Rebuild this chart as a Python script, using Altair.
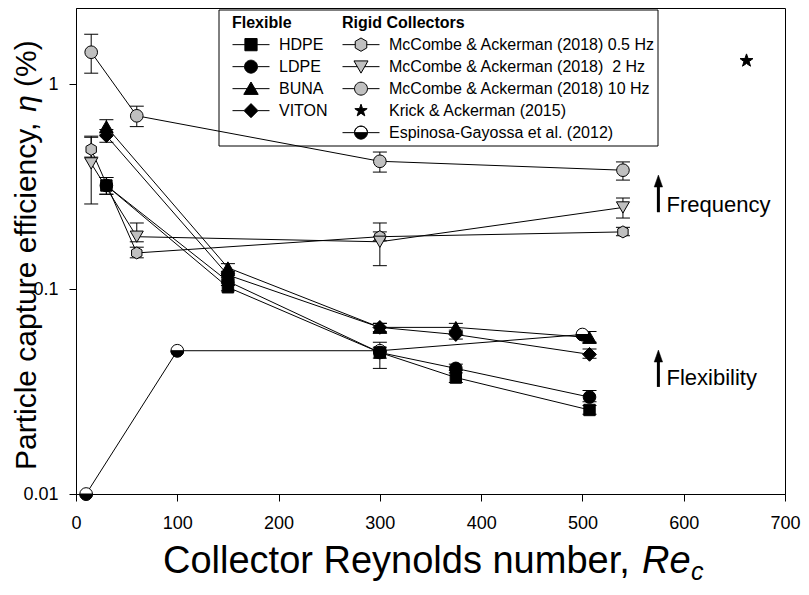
import altair as alt
import pandas as pd

FONT = "Liberation Sans"
GRAY = "#c0c0c0"

# ---------------- data ----------------
flex_names = ["HDPE", "LDPE", "BUNA", "VITON"]
flex_x = [30, 150, 300, 375, 507]
hdpe_y = [0.32, 0.102, 0.049, 0.037, 0.0257]
hdpe_lo = [0.29, 0.098, 0.046, 0.035, 0.0245]
hdpe_hi = [0.35, 0.107, 0.052, 0.040, 0.0270]
ldpe_y = [0.32, 0.109, 0.049, 0.041, 0.0297]
ldpe_lo = [0.29, 0.104, 0.041, 0.039, 0.0282]
ldpe_hi = [0.35, 0.114, 0.055, 0.043, 0.0320]
buna_y = [0.62, 0.127, 0.065, 0.065, 0.058]
buna_lo = [0.57, 0.121, 0.061, 0.062, 0.055]
buna_hi = [0.67, 0.133, 0.068, 0.068, 0.062]
viton_y = [0.56, 0.117, 0.065, 0.060, 0.048]
viton_lo = [0.52, 0.112, 0.062, 0.057, 0.046]
viton_hi = [0.60, 0.122, 0.068, 0.063, 0.051]

rigid_names = [
    "McCombe & Ackerman (2018) 0.5 Hz",
    "McCombe & Ackerman (2018)\u00a0 2 Hz",
    "McCombe & Ackerman (2018) 10 Hz",
    "Krick & Ackerman (2015)",
    "Espinosa-Gayossa et al. (2012)",
]
rigid_x = [15, 60, 300, 540]
hz05_y = [0.48, 0.15, 0.18, 0.19]
hz05_lo = [0.44, 0.142, 0.172, 0.182]
hz05_hi = [0.557, 0.16, 0.19, 0.20]
hz2_y = [0.41, 0.18, 0.17, 0.25]
hz2_lo = [0.26, 0.17, 0.13, 0.222]
hz2_hi = [0.55, 0.21, 0.21, 0.278]
hz10_y = [1.43, 0.70, 0.42, 0.38]
hz10_lo = [1.13, 0.62, 0.372, 0.34]
hz10_hi = [1.75, 0.78, 0.466, 0.417]
krick_x = [662]
krick_y = [1.3]
esp_x = [10, 100, 300, 500]
esp_y = [0.01, 0.05, 0.05, 0.06]

# annotation arrows (data coordinates)
ann_labels = ["Frequency", "Flexibility"]
ann_x = [575, 575]
ann_text_x = [583, 583]
ann_text_y = [0.237, 0.034]
ann_tip = [0.36, 0.0504]
ann_shaft_top = [0.325, 0.046]
ann_base = [0.237, 0.0333]

# ---------------- tables ----------------
def table(name, xs, ys, lo=None, hi=None):
    d = pd.DataFrame({"series": name, "x": xs, "y": ys})
    if lo is not None:
        d["lo"] = lo
        d["hi"] = hi
    return d

d_hdpe = table("HDPE", flex_x, hdpe_y, hdpe_lo, hdpe_hi)
d_ldpe = table("LDPE", flex_x, ldpe_y, ldpe_lo, ldpe_hi)
d_buna = table("BUNA", flex_x, buna_y, buna_lo, buna_hi)
d_viton = table("VITON", flex_x, viton_y, viton_lo, viton_hi)
d_05 = table(rigid_names[0], rigid_x, hz05_y, hz05_lo, hz05_hi)
d_2 = table(rigid_names[1], rigid_x, hz2_y, hz2_lo, hz2_hi)
d_10 = table(rigid_names[2], rigid_x, hz10_y, hz10_lo, hz10_hi)
d_krick = table(rigid_names[3], krick_x, krick_y)
d_esp = table(rigid_names[4], esp_x, esp_y)

d_all = pd.concat([d_hdpe, d_ldpe, d_buna, d_viton, d_05, d_2, d_10, d_krick, d_esp],
                  ignore_index=True)
d_err = pd.concat([d_hdpe, d_ldpe, d_buna, d_viton, d_05, d_2, d_10], ignore_index=True)
d_ann = pd.DataFrame({"label": ann_labels, "x": ann_x, "tx": ann_text_x, "ty": ann_text_y,
                      "tip": ann_tip, "top": ann_shaft_top, "base": ann_base})

# ---------------- scales / axes ----------------
xs = alt.Scale(domain=[0, 700], nice=False, zero=False)
ys = alt.Scale(type="log", domain=[0.01, 2.35], nice=False)
xaxis = alt.Axis(title=None, values=list(range(0, 701, 100)), format="d", labelPadding=13,
                 labelFlush=False, labelOverlap=False)
yaxis = alt.Axis(title=None, values=[0.01, 0.1, 1], format="~g", labelPadding=11,
                 labelFlush=False, labelOverlap=False)
X = alt.X("x:Q", scale=xs, axis=xaxis)
Y = alt.Y("y:Q", scale=ys, axis=yaxis)

# ---------------- shapes ----------------
HEX = "M0,-1L0.866,-0.5L0.866,0.5L0,1L-0.866,0.5L-0.866,-0.5Z"
STAR = ("M0,-1L0.235,-0.324L0.951,-0.309L0.38,0.124L0.588,0.809L0,0.4L-0.588,0.809"
        "L-0.38,0.124L-0.951,-0.309L-0.235,-0.324Z")
HALF = "M-1,0A1,1 0 0 0 1,0Z"
ARROW = "M0,0L0.7,2L-0.7,2Z"

L_SQ = "M-0.33,-0.33L0.33,-0.33L0.33,0.33L-0.33,0.33Z M-1,0L-0.33,0 M0.33,0L1,0"
L_CI = "M-0.35,0A0.35,0.35 0 1 1 0.35,0A0.35,0.35 0 1 1 -0.35,0Z M-1,0L-0.35,0 M0.35,0L1,0"
L_TU = "M0,-0.36L0.39,0.31L-0.39,0.31Z M-1,0L-0.2,0 M0.2,0L1,0"
L_DI = "M0,-0.38L0.38,0L0,0.38L-0.38,0Z M-1,0L-0.38,0 M0.38,0L1,0"
L_HX = ("M0,-0.36L0.312,-0.18L0.312,0.18L0,0.36L-0.312,0.18L-0.312,-0.18Z "
        "M-1,0L-0.312,0 M0.312,0L1,0")
L_TD = "M-0.38,-0.31L0.38,-0.31L0,0.35Z M-1,0L-0.2,0 M0.2,0L1,0"
L_ST = ("M0,-0.35L0.082,-0.113L0.333,-0.108L0.133,0.043L0.206,0.283L0,0.14L-0.206,0.283"
        "L-0.133,0.043L-0.333,-0.108L-0.082,-0.113Z")
L_HF = ("M-0.35,0A0.35,0.35 0 0 0 0.35,0Z M-0.35,0A0.35,0.35 0 0 1 0.35,0"
        "A0.35,0.35 0 0 0 -0.35,0 M-1,0L-0.35,0 M0.35,0L1,0")

# ---------------- layers ----------------
lines = alt.Chart(d_all).mark_line(color="black", strokeWidth=1).encode(
    x=X, y=Y, detail="series:N", order="x:Q")

err_rule = alt.Chart(d_err).mark_rule(color="black", strokeWidth=1).encode(
    x=X, y=alt.Y("lo:Q", scale=ys, axis=yaxis), y2="hi:Q")
cap_lo = alt.Chart(d_err).mark_tick(orient="horizontal", size=14, thickness=1,
                                    color="black", opacity=1).encode(
    x=X, y=alt.Y("lo:Q", scale=ys, axis=yaxis))
cap_hi = alt.Chart(d_err).mark_tick(orient="horizontal", size=14, thickness=1,
                                    color="black", opacity=1).encode(
    x=X, y=alt.Y("hi:Q", scale=ys, axis=yaxis))


def pts(df, shape, fill, size):
    return alt.Chart(df).mark_point(shape=shape, filled=True, fill=fill, stroke="black",
                                    strokeWidth=1, size=size, opacity=1).encode(x=X, y=Y)

points = [
    pts(d_05, HEX, GRAY, 144),
    pts(d_2, "triangle-down", GRAY, 170),
    pts(d_10, "circle", GRAY, 160),
    pts(d_esp, "circle", "white", 160),
    pts(d_esp, HALF, "black", 160),
    pts(d_krick, STAR, "black", 185),
    pts(d_hdpe, "square", "black", 130),
    pts(d_ldpe, "circle", "black", 160),
    pts(d_viton, "diamond", "black", 190),
    pts(d_buna, "triangle-up", "black", 185),
]

# annotations
ann_shaft = alt.Chart(d_ann).mark_rule(color="black", strokeWidth=3).encode(
    x=X, y=alt.Y("base:Q", scale=ys, axis=yaxis), y2="top:Q")
ann_head = alt.Chart(d_ann).mark_point(shape=ARROW, filled=True, fill="black",
                                       stroke="black", strokeWidth=0.5, size=144,
                                       opacity=1).encode(
    x=X, y=alt.Y("tip:Q", scale=ys, axis=yaxis))
ann_text = alt.Chart(d_ann).mark_text(align="left", baseline="alphabetic", fontSize=22,
                                      font=FONT, color="black").encode(
    x=alt.X("tx:Q", scale=xs, axis=xaxis), y=alt.Y("ty:Q", scale=ys, axis=yaxis),
    text="label:N")


# legends (legend-only layers: marks sit outside the x domain and are clipped)
def legend(title, lx):
    return alt.Legend(title=title, orient="none", legendX=lx, legendY=7, direction="vertical",
                      titleFont=FONT, titleFontSize=16, titleFontWeight="bold",
                      titleColor="black", titlePadding=3, titleLimit=400,
                      labelFont=FONT, labelFontSize=16, labelColor="black", labelOffset=9,
                      labelLimit=400, symbolSize=1369, symbolStrokeWidth=1,
                      clipHeight=21.3, rowPadding=0, padding=0, offset=0)

flex_leg = legend("\u00a0\u00a0Flexible", 156)
rigid_leg = legend("\u00a0Rigid Collectors", 266)

d_flex_leg = pd.DataFrame({"series": flex_names, "x": -50, "y": 1.0})
d_rigid_leg = pd.DataFrame({"series": rigid_names, "x": -50, "y": 1.0})

flex_legend_layer = alt.Chart(d_flex_leg).mark_point(filled=True, opacity=1, clip=True,
                                                     strokeWidth=1).encode(
    x=X, y=Y,
    shape=alt.Shape("series:N", scale=alt.Scale(domain=flex_names,
                                                range=[L_SQ, L_CI, L_TU, L_DI]), legend=flex_leg),
    fill=alt.Fill("series:N", scale=alt.Scale(domain=flex_names, range=["black"] * 4),
                  legend=flex_leg),
    stroke=alt.Stroke("series:N", scale=alt.Scale(domain=flex_names, range=["black"] * 4),
                      legend=flex_leg),
)
rigid_legend_layer = alt.Chart(d_rigid_leg).mark_point(filled=True, opacity=1, clip=True,
                                                       strokeWidth=1).encode(
    x=X, y=Y,
    shape=alt.Shape("series:N", scale=alt.Scale(domain=rigid_names,
                                                range=[L_HX, L_TD, L_CI, L_ST, L_HF]),
                    legend=rigid_leg),
    fill=alt.Fill("series:N", scale=alt.Scale(domain=rigid_names,
                                              range=[GRAY, GRAY, GRAY, "black", "black"]),
                  legend=rigid_leg),
    stroke=alt.Stroke("series:N", scale=alt.Scale(domain=rigid_names, range=["black"] * 5),
                      legend=rigid_leg),
)

one = pd.DataFrame({"a": [0]})
legend_box = alt.Chart(one).mark_rect(fill="transparent", stroke="black", strokeWidth=1).encode(
    x=alt.value(143), x2=alt.value(582), y=alt.value(2), y2=alt.value(138))


def label(text, x, y, size, style="normal", angle=0):
    return alt.Chart(one).mark_text(text=text, align="left", baseline="alphabetic",
                                    fontSize=size, fontStyle=style, font=FONT, color="black",
                                    angle=angle).encode(x=alt.value(x), y=alt.value(y))

titles = [
    label("Collector Reynolds number,", 87, 565, 38),
    label("Re", 566, 565, 38, "italic"),
    label("c", 615, 572, 25, "italic"),
    label("Particle capture efficiency,", -40, 462, 30, angle=270),
    label("\u03b7", -40, 103.7, 30, "italic", angle=270),
    label("(%)", -40, 78.9, 30, angle=270),
]

chart = alt.layer(
    lines, err_rule, cap_lo, cap_hi, *points, ann_shaft, ann_head, ann_text,
    flex_legend_layer, rigid_legend_layer, legend_box, *titles
).resolve_scale(
    shape="independent", fill="independent", stroke="independent"
).resolve_legend(
    shape="independent", fill="independent", stroke="independent"
).properties(
    width=709, height=486,
    padding={"left": 68, "top": 0, "right": 16, "bottom": 93},
    autosize=alt.AutoSizeParams(type="none"),
).configure(font=FONT).configure_view(
    stroke="black", strokeWidth=1
).configure_axis(
    grid=False, domainColor="black", tickColor="black", labelColor="black",
    labelFont=FONT, labelFontSize=18, tickSize=7, domainWidth=1, tickWidth=1
)

chart.save("out.html", embed_options={"renderer": "svg", "actions": False})
